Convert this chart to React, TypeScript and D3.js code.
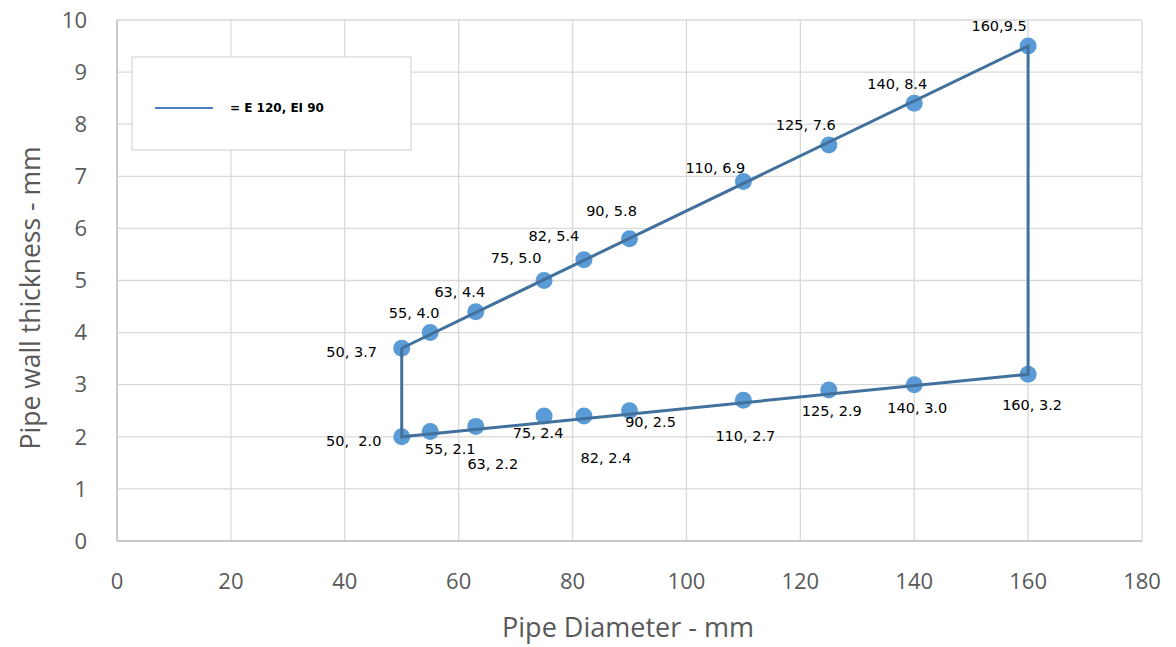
import React from "react";
import * as d3 from "d3";

const diameters = [50, 55, 63, 75, 82, 90, 110, 125, 140, 160];
const upperThickness = [3.7, 4.0, 4.4, 5.0, 5.4, 5.8, 6.9, 7.6, 8.4, 9.5];
const lowerThickness = [2.0, 2.1, 2.2, 2.4, 2.4, 2.5, 2.7, 2.9, 3.0, 3.2];
const upperLabels = ["50, 3.7", "55, 4.0", "63, 4.4", "75, 5.0", "82, 5.4", "90, 5.8", "110, 6.9", "125, 7.6", "140, 8.4", "160,9.5"];
const lowerLabels = ["50,  2.0", "55, 2.1", "63, 2.2", "75, 2.4", "82, 2.4", "90, 2.5", "110, 2.7", "125, 2.9", "140, 3.0", "160, 3.2"];
// label offsets (dx, dy) in px relative to the point
const upperOffsets: [number, number][] = [[-50, 4], [-16, -20], [-16, -20], [-28, -23], [-30, -24], [-18, -28], [-28, -14], [-23, -20], [-17, -19], [-29, -20]];
const lowerOffsets: [number, number][] = [[-48, 4], [20, 17], [17, 38], [-6, 17], [22, 42], [21, 11], [2, 36], [3, 21], [3, 23], [4, 31]];
const xTicks = [0, 20, 40, 60, 80, 100, 120, 140, 160, 180];
const yTicks = [0, 1, 2, 3, 4, 5, 6, 7, 8, 9, 10];
const legendLabel = "= E 120, EI 90";

export default function App() {
  const left = 117, right = 1142, top = 20, bottom = 541;
  const x = d3.scaleLinear().domain([0, 180]).range([left, right]);
  const y = d3.scaleLinear().domain([0, 10]).range([bottom, top]);
  const n = diameters.length;
  const outline: [number, number][] = [
    [diameters[0], upperThickness[0]],
    [diameters[n - 1], upperThickness[n - 1]],
    [diameters[n - 1], lowerThickness[n - 1]],
    [diameters[0], lowerThickness[0]],
    [diameters[0], upperThickness[0]],
  ];
  const line = d3.line<[number, number]>().x((d) => x(d[0])).y((d) => y(d[1]));
  const font = "'Open Sans', 'DejaVu Sans', sans-serif";
  const labelFont = "'DejaVu Sans', sans-serif";
  const pts = [
    ...diameters.map((d, i) => ({ d, t: upperThickness[i], label: upperLabels[i], off: upperOffsets[i] })),
    ...diameters.map((d, i) => ({ d, t: lowerThickness[i], label: lowerLabels[i], off: lowerOffsets[i] })),
  ];
  return (
    <svg width={1176} height={647} style={{ position: "absolute", left: 0, top: 0, background: "#fff" }}>
      {xTicks.map((t) => (
        <line key={"gx" + t} x1={x(t)} x2={x(t)} y1={top} y2={bottom} stroke="#d9d9d9" strokeWidth={1.3} />
      ))}
      {yTicks.map((t) => (
        <line key={"gy" + t} x1={left} x2={right} y1={y(t)} y2={y(t)} stroke="#d9d9d9" strokeWidth={1.3} />
      ))}
      <line x1={left} x2={left} y1={top} y2={bottom} stroke="#bfbfbf" strokeWidth={1.3} />
      <line x1={left} x2={right} y1={bottom} y2={bottom} stroke="#bfbfbf" strokeWidth={1.3} />
      {yTicks.map((t) => (
        <text key={"ty" + t} x={87} y={y(t)} dy="0.35em" textAnchor="end" fontFamily={font} fontSize={22} fill="#595959">
          {t}
        </text>
      ))}
      {xTicks.map((t) => (
        <text key={"tx" + t} x={x(t)} y={581} dy="0.35em" textAnchor="middle" fontFamily={font} fontSize={22} fill="#595959">
          {t}
        </text>
      ))}
      <text x={628} y={628} dy="0.35em" textAnchor="middle" fontFamily={font} fontSize={27} fill="#595959">
        Pipe Diameter - mm
      </text>
      <text transform={`translate(31,298) rotate(-90)`} dy="0.35em" textAnchor="middle" fontFamily={font} fontSize={26.5} fill="#595959">
        Pipe wall thickness - mm
      </text>
      <rect x={132} y={57} width={279} height={93} fill="#fff" stroke="#d9d9d9" strokeWidth={1.3} />
      <line x1={155} x2={213} y1={108} y2={108} stroke="#4a7fbf" strokeWidth={2} />
      <text x={230} y={108} dy="0.35em" fontFamily={labelFont} fontSize={12} fontWeight="bold" fill="#000">
        {legendLabel}
      </text>
      {pts.map((p, i) => (
        <circle key={"c" + i} cx={x(p.d)} cy={y(p.t)} r={8.5} fill="#5b9bd5" />
      ))}
      <path d={line(outline) || ""} fill="none" stroke="#41719c" strokeWidth={3} />
      {pts.map((p, i) => (
        <text key={"l" + i} x={x(p.d) + p.off[0]} y={y(p.t) + p.off[1]} dy="0.35em" textAnchor="middle" fontFamily={labelFont} fontSize={14.5} fill="#000" style={{ whiteSpace: "pre" }}>
          {p.label}
        </text>
      ))}
    </svg>
  );
}
